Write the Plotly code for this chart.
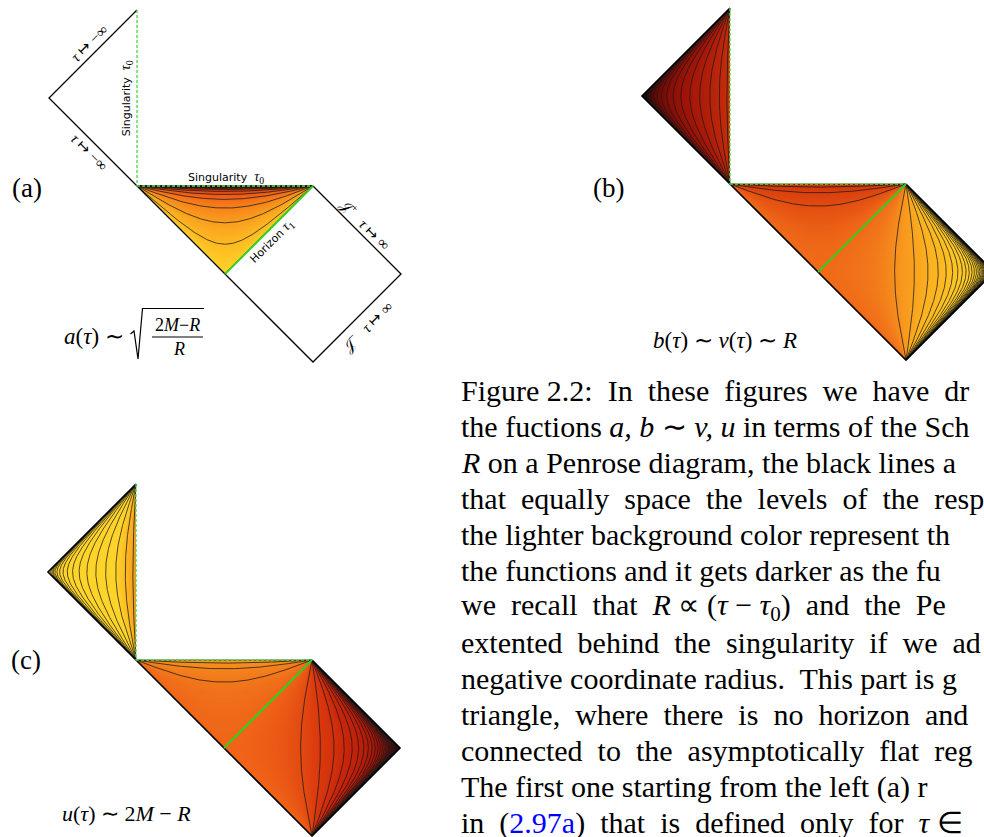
import numpy as np
import plotly.graph_objects as go

W, H = 984, 837
UNIT = 88.0  # pixels per diagram unit

# ---------------- data ----------------
# Penrose-diagram geometry (diagram units)
OUTLINE_X = [0, -1, 0, 1, 2, 3, 2]
OUTLINE_Y = [2, 1, 0, -1, -2, -1, 0]
SING_X = [0, 0, None, 0, 2]
SING_Y = [2, 0, None, 0, 0]
HORIZON_X = [1, 2]
HORIZON_Y = [-1, 0]

# contour levels (equally spaced levels of each function)
A_LEVELS = [0.17, 0.33, 0.5, 0.67, 0.83, 1.0, 1.17, 1.33, 1.5, 1.67, 1.83, 2.0, 2.33, 2.67, 3.0]
R_NEG_LEVELS = [-0.55, -1.15, -1.75, -2.35, -2.95, -3.55, -4.15, -4.75, -5.35, -5.95,
                -6.55, -7.15, -7.75, -8.35, -9.0, -10.0]
R_INT_LEVELS = [0.2, 0.4, 0.6, 0.8]
R_EXT_LEVELS = [1.2, 1.35, 1.5, 1.65, 1.8, 1.95, 2.1, 2.25, 2.4, 2.55, 2.7, 2.85, 3.0,
                3.15, 3.3, 3.45, 3.6, 3.75, 3.9, 4.1, 4.3, 4.5, 4.75, 5.0, 5.3, 5.6, 6.0]

# colour scales
SOLAR = [[0.0, '#1a0000'], [0.12, '#5a0602'], [0.3, '#a01408'], [0.5, '#d8380c'],
         [0.68, '#f06418'], [0.82, '#f8921c'], [0.93, '#fdbb22'], [1.0, '#ffd42a']]
SOLAR_R = [[1 - p, c] for p, c in reversed(SOLAR)]
B_INT_SCALE = [[0.0, '#c92c0a'], [0.5, '#d5390c'], [0.75, '#de470f'], [0.9, '#e85813'], [1.0, '#f06a18']]
B_EXT_SCALE = [[0.0, '#f06a18'], [0.05, '#f27a1a'], [0.125, '#f8981e'], [0.25, '#fbb020'],
               [0.5, '#fec424'], [1.0, '#ffd02a']]
C_INT_SCALE = [[0.0, '#ef6618'], [0.15, '#f1741a'], [0.4, '#f4861c'], [0.7, '#f7961e'], [1.0, '#f9a620']]
C_EXT_SCALE = [[0.0, '#3a0402'], [0.5, '#7a0c04'], [0.75, '#a81608'], [0.883, '#c8240a'],
               [0.95, '#dc3c0e'], [1.0, '#f06418']]

# (value range, colour scale) for every filled region
COLORING = {
    ('a', 'int'): ([0.0, 2.2], SOLAR_R),
    ('b', 'neg'): ([-9.0, 10.5], SOLAR),
    ('b', 'int'): ([0.0, 1.0], B_INT_SCALE),
    ('b', 'ext'): ([1.0, 3.0], B_EXT_SCALE),
    ('c', 'neg'): ([-6.1, 2.8], SOLAR),
    ('c', 'int'): ([0.0, 1.0], C_INT_SCALE),
    ('c', 'ext'): ([-6.0, 0.0], C_EXT_SCALE),
}

# panel origins (pixel position of the diagram point (0,0))
PANELS = {'a': (137, 186), 'b': (730, 184), 'c': (136, 660)}
AXES = {'a': ('x', 'y'), 'b': ('x2', 'y2'), 'c': ('x3', 'y3')}

CAPTION = [
    "Figure 2.2:  In  these  figures  we  have  dr",
    "the fuctions <i>a, b</i> ∼ <i>v, u</i> in terms of the Sch",
    "<i>R</i> on a Penrose diagram, the black lines a",
    "that  equally  space  the  levels  of  the  resp",
    "the lighter background color represent th",
    "the functions and it gets darker as the fu",
    "we  recall  that  <i>R</i> ∝ (<i>τ</i> − <i>τ</i><sub>0</sub>)  and  the  Pe",
    "extented  behind  the  singularity  if  we  ad",
    "negative coordinate radius.  This part is g",
    "triangle,  where  there  is  no  horizon  and",
    "connected  to  the  asymptotically  flat  reg",
    "The first one starting from the left (a) r",
    "in  (<span style='color:#0000ff'>2.97a</span>)  that  is  defined  only  for  <i>τ</i> ∈",
]


# ---------------- physics helpers ----------------
def fR(X):
    return (1 - X) * np.exp(X)


def solve(P, lo, hi, inc):
    lo = np.full_like(P, float(lo))
    hi = np.full_like(P, float(hi))
    for _ in range(64):
        mid = 0.5 * (lo + hi)
        fm = fR(mid)
        up = (fm < P) if inc else (fm > P)
        lo = np.where(up, mid, lo)
        hi = np.where(up, hi, mid)
    return 0.5 * (lo + hi)


BBOX = {'neg': (-1, 0, 0, 2), 'int': (0, 2, -1, 0), 'ext': (1, 3, -2, 0)}


def field(region):
    x0, x1, y0, y1 = BBOX[region]
    h = 1 / UNIT
    nx = int(round((x1 - x0) / h))
    ny = int(round((y1 - y0) / h))
    xs = x0 + (np.arange(nx) + 0.5) * (x1 - x0) / nx
    ys = y0 + (np.arange(ny) + 0.5) * (y1 - y0) / ny
    Xg, Yg = np.meshgrid(xs, ys)
    s = Xg + Yg
    d = Xg - Yg
    tol = 0.7 / UNIT
    e = 1e-7
    with np.errstate(all='ignore'):
        if region == 'int':
            mask = (s >= -tol) & (Yg <= 0) & (d <= 2 + tol)
            sc = np.clip(s, e, 2 - e)
            dc = np.clip(d, e, 2)
            P = np.clip(np.tan(np.pi * (2 - dc) / 4) * np.tan(np.pi * sc / 4), 0, 1)
            X = solve(P, 0, 1, False)
        elif region == 'ext':
            mask = (s >= -tol) & (s <= 2 + tol) & (d >= 2 - tol) & (d <= 4 + tol)
            sc = np.clip(s, e, 2 - e)
            dc = np.clip(d, 2, 4 - e)
            P = np.tan(np.pi * (2 - dc) / 4) * np.tan(np.pi * sc / 4)
            X = solve(P, 1, 40, False)
        else:
            mask = (s >= -tol) & (s <= 2 + tol) & (d >= -2 - tol) & (Xg <= 0)
            sc = np.clip(s, e, 2 - e)
            dc = np.clip(d, -2 + e, 0)
            P = np.clip(np.tan(np.pi * (2 + dc) / 4) * np.tan(np.pi * sc / 4), 0, 1)
            X = solve(P, -60, 0, True)
    X = np.where(mask, X, np.nan)
    return xs, ys, X


def level_curve(X, region):
    P = fR(X)
    w = np.linspace(-13, 13, 900)
    r = np.sqrt(abs(P))
    V = r * np.exp(w)
    U = r * np.exp(-w) * (-1 if P < 0 else 1)
    s = 4 / np.pi * np.arctan(V)
    if region == 'neg':
        d = 4 / np.pi * np.arctan(U) - 2
    else:
        d = 2 - 4 / np.pi * np.arctan(U)
    return (s + d) / 2, (s - d) / 2


def curves(levels, region, to_X=lambda v: v):
    xs, ys = [], []
    for lv in levels:
        cx, cy = level_curve(to_X(lv), region)
        xs += list(np.round(cx, 4)) + [None]
        ys += list(np.round(cy, 4)) + [None]
    return xs, ys


def tolist(z):
    z = np.round(z, 3)
    return [[None if np.isnan(v) else float(v) for v in row] for row in z]


fig = go.Figure()


def add_heat(panel, region, transform):
    rng, cs = COLORING[(panel, region)]
    xs, ys, X = field(region)
    with np.errstate(all='ignore'):
        z = transform(X)
    z = np.clip(z, rng[0], rng[1])
    xa, ya = AXES[panel]
    fig.add_trace(go.Heatmap(x=np.round(xs, 5).tolist(), y=np.round(ys, 5).tolist(), z=tolist(z),
                             colorscale=cs, zmin=rng[0], zmax=rng[1], showscale=False,
                             hoverinfo='skip', xaxis=xa, yaxis=ya))


def add_lines(panel, x, y, color, width, dash=None):
    xa, ya = AXES[panel]
    fig.add_trace(go.Scatter(x=x, y=y, mode='lines', hoverinfo='skip', showlegend=False,
                             line=dict(color=color, width=width, dash=dash),
                             xaxis=xa, yaxis=ya))


CONTOUR_COLOR = '#1a1a1a'
CONTOUR_WIDTH = 0.75

# ---- panel (a): a ~ sqrt((2M-R)/R), only in the black-hole interior ----
add_heat('a', 'int', lambda X: np.sqrt((1 - X) / X))
cx, cy = curves(A_LEVELS, 'int', lambda a: 1 / (1 + a * a))
add_lines('a', cx, cy, CONTOUR_COLOR, CONTOUR_WIDTH)

# ---- panel (b): b ~ v ~ R ----
for reg in ('neg', 'int', 'ext'):
    add_heat('b', reg, lambda X: X)

# ---- panel (c): u ~ 2M - R ----
for reg in ('neg', 'int', 'ext'):
    add_heat('c', reg, lambda X: 1 - X)

for p in ('b', 'c'):
    for lv, reg in ((R_NEG_LEVELS, 'neg'), (R_INT_LEVELS, 'int'), (R_EXT_LEVELS, 'ext')):
        cx, cy = curves(lv, reg)
        add_lines(p, cx, cy, CONTOUR_COLOR, CONTOUR_WIDTH)

# boundaries
for p in ('a', 'b', 'c'):
    add_lines(p, OUTLINE_X, OUTLINE_Y, '#000000', 1.3 if p == 'a' else 1.6)
    add_lines(p, SING_X, SING_Y, '#55dd44', 1.4, dash='3px,2px')
    add_lines(p, HORIZON_X, HORIZON_Y, '#33cc22', 2.0)

# ---------------- layout / axes ----------------
layout_axes = {}
for i, (p, (ox, oy)) in enumerate(PANELS.items()):
    left = max(0.0, ox - 1.1 * UNIT)
    right = min(W, ox + 3.1 * UNIT)
    top = max(0.0, oy - 2.1 * UNIT)
    bottom = min(H, oy + 2.1 * UNIT)
    sfx = '' if i == 0 else str(i + 1)
    layout_axes['xaxis' + sfx] = dict(domain=[left / W, right / W],
                                     range=[(left - ox) / UNIT, (right - ox) / UNIT],
                                     visible=False, fixedrange=True,
                                     anchor='y' + sfx)
    layout_axes['yaxis' + sfx] = dict(domain=[1 - bottom / H, 1 - top / H],
                                     range=[(oy - bottom) / UNIT, (oy - top) / UNIT],
                                     visible=False, fixedrange=True,
                                     anchor='x' + sfx)

SERIF = 'Liberation Serif'
SANS = 'DejaVu Sans'


def px(x):
    return x / W


def py(y):
    return 1 - y / H


ann = []


def note(text, x, y, size, family=SERIF, xanchor='center', yanchor='middle', angle=0,
         xref='paper', yref='paper', color='#000000'):
    ann.append(dict(text=text, x=x, y=y, xref=xref, yref=yref, showarrow=False,
                    xanchor=xanchor, yanchor=yanchor, textangle=angle,
                    font=dict(family=family, size=size, color=color)))


# panel letters
note('(a)', px(27), py(188), 27)
note('(b)', px(608), py(188), 27)
note('(c)', px(26), py(660), 27)

# panel (a) labels (placed in diagram units)
note("Singularity  <span style='font-family:Liberation Serif;font-size:14px'><i>τ</i><sub>0</sub></span>",
     1.01, 0.10, 11, SANS, xref='x', yref='y')
note("Singularity  <span style='font-family:Liberation Serif;font-size:14px'><i>τ</i><sub>0</sub></span>",
     -0.11, 1.0, 11, SANS, angle=-90, xref='x', yref='y')
note("<i>τ</i> ↦ −∞", -0.535, 1.62, 15, angle=-45, xref='x', yref='y')
note("<i>τ</i> ↦ −∞", -0.545, 0.39, 15, angle=45, xref='x', yref='y')
note("Horizon <span style='font-family:Liberation Serif;font-size:14px'><i>τ</i><sub>1</sub></span>",
     1.53, -0.63, 11, SANS, angle=-45, xref='x', yref='y')
note("𝒥<sup>+</sup>   <i>τ</i> ↦ ∞", 2.6, -0.43, 15, angle=45, xref='x', yref='y')
note("𝒥<sup>−</sup>   <i>τ</i> ↦ ∞", 2.61, -1.59, 15, angle=-45, xref='x', yref='y')

# formulas
note("<i>a</i>(<i>τ</i>) ∼", px(126), py(336), 23, xanchor='right')
note("2<i>M</i>−<i>R</i>", px(177.5), py(325), 18)
note("<i>R</i>", px(179), py(349), 18)
note("<i>b</i>(<i>τ</i>) ∼ <i>v</i>(<i>τ</i>) ∼ <i>R</i>", px(725), py(340), 23)
note("<i>u</i>(<i>τ</i>) ∼ 2<i>M</i> − <i>R</i>", px(126), py(813), 22)

# caption
for k, line in enumerate(CAPTION):
    note(line, px(459), py(390.6 + 36.0 * k), 30, xanchor='left')

shapes = [
    dict(type='path', xref='paper', yref='paper', line=dict(color='black', width=1.2),
         path=f"M {px(130.5)},{py(334)} L {px(134)},{py(331)} L {px(138)},{py(359)} "
              f"L {px(142.5)},{py(308.5)} L {px(204)},{py(308.5)}"),
    dict(type='line', xref='paper', yref='paper', x0=px(152), x1=px(203), y0=py(337), y1=py(337),
         line=dict(color='black', width=1)),
]

fig.update_layout(width=W, height=H, margin=dict(l=0, r=0, t=0, b=0),
                  paper_bgcolor='white', plot_bgcolor='rgba(0,0,0,0)', showlegend=False,
                  annotations=ann, shapes=shapes, **layout_axes)

fig.write_html("out.html", config={'displayModeBar': False},
               post_script="document.body.style.margin='0px';")
